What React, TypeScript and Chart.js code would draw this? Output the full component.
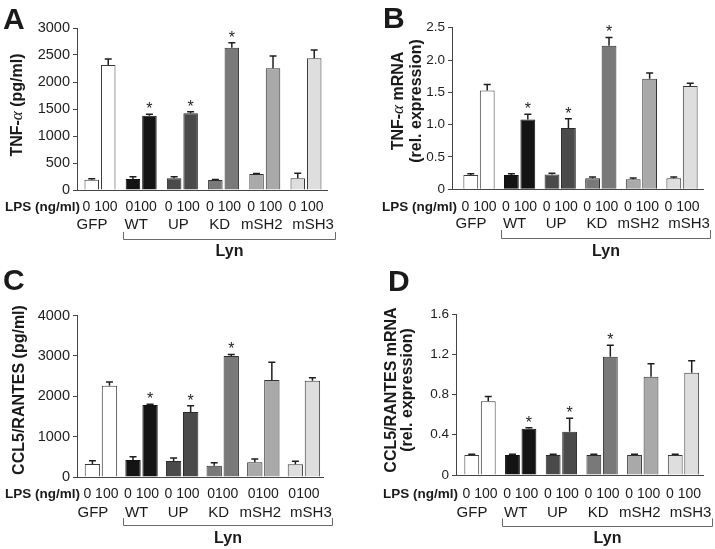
import React, { useEffect, useRef } from "react";
import { Chart, registerables } from "chart.js";

Chart.register(...registerables);

const FONT = "'Liberation Sans', Arial, Helvetica, sans-serif";
const SERIF = "'Liberation Serif', 'DejaVu Serif', serif";

// ---------- data ----------
const groups = ["GFP", "WT", "UP", "KD", "mSH2", "mSH3"];
const lpsTitle = "LPS (ng/ml)";
const bracketTitle = "Lyn";
const significant = [false, true, true, true, false, false];

// A: TNF-alpha protein (pg/ml)
const tnfProt0 = [190, 204, 216, 185, 296, 216];
const tnfProt0Err = [20, 40, 30, 10, 10, 93];
const tnfProt100 = [2315, 1376, 1420, 2636, 2253, 2438];
const tnfProt100Err = [110, 25, 30, 90, 230, 155];
const lpsA = ["0 100", "0100", "0 100", "0 100", "0 100", "0 100"];

// B: TNF-alpha mRNA (rel. expression)
const tnfMrna0 = [0.22, 0.22, 0.23, 0.17, 0.155, 0.17];
const tnfMrna0Err = [0.02, 0.02, 0.02, 0.02, 0.02, 0.02];
const tnfMrna100 = [1.53, 1.08, 0.95, 2.22, 1.71, 1.6];
const tnfMrna100Err = [0.09, 0.08, 0.14, 0.13, 0.09, 0.04];
const lpsB = ["0 100", "0 100", "0 100", "0 100", "0 100", "0 100"];

// C: CCL5/RANTES protein (pg/ml)
const cclProt0 = [320, 420, 396, 280, 364, 314];
const cclProt0Err = [80, 80, 75, 75, 80, 75];
const cclProt100 = [2260, 1782, 1609, 2995, 2400, 2384];
const cclProt100Err = [95, 20, 155, 40, 445, 75];
const lpsC = ["0 100", "0 100", "0 100", "0100", "0100", "0100"];

// D: CCL5/RANTES mRNA (rel. expression)
const cclMrna0 = [0.2, 0.2, 0.2, 0.2, 0.2, 0.2];
const cclMrna0Err = [0.005, 0.005, 0.005, 0.005, 0.005, 0.005];
const cclMrna100 = [0.734, 0.46, 0.43, 1.174, 0.976, 1.015];
const cclMrna100Err = [0.045, 0.01, 0.135, 0.116, 0.13, 0.12];
const lpsD = ["0 100", "0 100", "0 100", "0 100", "0 100", "0 100"];

// ---------- styling ----------
const fills = ["#ffffff", "#141414", "#4a4a4a", "#797979", "#a9a9a9", "#dedede"];
const borders = ["#3a3a3a", "#111111", "#2a2a2a", "#2e2e2e", "#333333", "#3a3a3a"];
const nameShift = [-8, -5, -4, -4, -3, 7];

const intFmt = (v: number) => String(v);
const decFmt = (v: number) => (v === 0 ? "0" : v.toFixed(1));

const panels = [
  {
    letter: "A", letterX: 3, letterY: 29,
    v0: tnfProt0, e0: tnfProt0Err, v1: tnfProt100, e1: tnfProt100Err, lps: lpsA,
    yMax: 3000, yStep: 500, fmt: intFmt, tickSize: 14.5,
    area: { l: 77, r: 327, t: 28, b: 190 }, xMin: -0.558, xMax: 5.51,
    catPct: 0.8, barPct: 0.88,
    titles: ["TNF-α (pg/ml)"], titleX: [18], titleY: 105,
    lpsX: 5, rowLps: 210.7, rowNames: 229.3, brTop: 232, brBot: 239, rowLyn: 256,
  },
  {
    letter: "B", letterX: 383, letterY: 28,
    v0: tnfMrna0, e0: tnfMrna0Err, v1: tnfMrna100, e1: tnfMrna100Err, lps: lpsB,
    yMax: 2.5, yStep: 0.5, fmt: decFmt, tickSize: 13.5,
    area: { l: 452, r: 703, t: 27.7, b: 189.3 }, xMin: -0.665, xMax: 5.517,
    catPct: 0.81, barPct: 0.9,
    titles: ["TNF-α mRNA", "(rel. expression)"], titleX: [399, 417], titleY: 101,
    lpsX: 382, rowLps: 211, rowNames: 228.3, brTop: 230, brBot: 238.3, rowLyn: 256,
  },
  {
    letter: "C", letterX: 3, letterY: 290,
    v0: cclProt0, e0: cclProt0Err, v1: cclProt100, e1: cclProt100Err, lps: lpsC,
    yMax: 4000, yStep: 1000, fmt: intFmt, tickSize: 14.5,
    area: { l: 77, r: 323, t: 315.5, b: 477 }, xMin: -0.59, xMax: 5.47,
    catPct: 0.84, barPct: 0.9,
    titles: ["CCL5/RANTES (pg/ml)"], titleX: [20], titleY: 390,
    lpsX: 5, rowLps: 498.3, rowNames: 516.7, brTop: 518, brBot: 525, rowLyn: 543,
  },
  {
    letter: "D", letterX: 388, letterY: 291,
    v0: cclMrna0, e0: cclMrna0Err, v1: cclMrna100, e1: cclMrna100Err, lps: lpsD,
    yMax: 1.6, yStep: 0.4, fmt: decFmt, tickSize: 13.5,
    area: { l: 456, r: 703, t: 314, b: 475 }, xMin: -0.59, xMax: 5.48,
    catPct: 0.81, barPct: 0.9,
    titles: ["CCL5/RANTES mRNA", "(rel. expression)"], titleX: [392, 408], titleY: 390,
    lpsX: 383, rowLps: 498.3, rowNames: 516.7, brTop: 518.3, brBot: 525.7, rowLyn: 543,
  },
];

function drawRotatedTitle(ctx: CanvasRenderingContext2D, text: string, cx: number, cy: number, size: number) {
  const parts = text.split(/(α)/).filter((s) => s.length > 0);
  const fontFor = (s: string) => (s === "α" ? `italic ${size + 1}px ${SERIF}` : `bold ${size}px ${FONT}`);
  let total = 0;
  const widths = parts.map((s) => {
    ctx.font = fontFor(s);
    const w = ctx.measureText(s).width;
    total += w;
    return w;
  });
  ctx.save();
  ctx.translate(cx, cy);
  ctx.rotate(-Math.PI / 2);
  ctx.textBaseline = "middle";
  ctx.textAlign = "left";
  let x = -total / 2;
  parts.forEach((s, i) => {
    ctx.font = fontFor(s);
    ctx.fillText(s, x, 0);
    x += widths[i];
  });
  ctx.restore();
}

function makeDeco(p: any) {
  return {
    id: "deco" + p.letter,
    afterDatasetsDraw(chart: any) {
      const ctx = chart.ctx;
      const ys = chart.scales.y;
      ctx.save();
      ctx.strokeStyle = "#1e1e1e";
      ctx.lineWidth = 1.5;
      const sets = [
        [p.v0, p.e0],
        [p.v1, p.e1],
      ];
      sets.forEach(([vals, errs]: any, d: number) => {
        const meta = chart.getDatasetMeta(d);
        vals.forEach((v: number, i: number) => {
          const bar = meta.data[i];
          const x = bar.x;
          const yTop = ys.getPixelForValue(v);
          const yErr = ys.getPixelForValue(v + errs[i]);
          ctx.beginPath();
          ctx.moveTo(x, yTop);
          ctx.lineTo(x, yErr);
          ctx.moveTo(x - 3.5, yErr);
          ctx.lineTo(x + 3.5, yErr);
          ctx.stroke();
          if (d === 1 && significant[i]) {
            ctx.fillStyle = "#1e1e1e";
            ctx.font = `16px ${FONT}`;
            ctx.textAlign = "center";
            ctx.textBaseline = "alphabetic";
            ctx.fillText("*", x, yErr);
          }
        });
      });
      ctx.restore();
    },
    afterDraw(chart: any) {
      const ctx = chart.ctx;
      const xs = chart.scales.x;
      ctx.save();
      ctx.fillStyle = "#1a1a1a";
      // panel letter
      ctx.font = `bold 30px ${FONT}`;
      ctx.textAlign = "left";
      ctx.textBaseline = "alphabetic";
      ctx.fillText(p.letter, p.letterX, p.letterY);
      // y titles
      p.titles.forEach((t: string, k: number) => drawRotatedTitle(ctx, t, p.titleX[k], p.titleY, 16));
      // LPS row
      ctx.font = `bold 13.5px ${FONT}`;
      ctx.textAlign = "left";
      ctx.fillText(lpsTitle, p.lpsX, p.rowLps);
      ctx.textAlign = "center";
      ctx.font = `14px ${FONT}`;
      groups.forEach((g, i) => {
        ctx.fillText(p.lps[i], xs.getPixelForValue(i), p.rowLps);
      });
      // group names
      ctx.font = `15px ${FONT}`;
      groups.forEach((g, i) => {
        ctx.fillText(g, xs.getPixelForValue(i) + nameShift[i], p.rowNames);
      });
      // bracket
      const bl = Math.round(xs.getPixelForValue(0.55)) + 0.5;
      const br = Math.round(xs.getPixelForValue(5.7)) + 0.5;
      const bb = Math.round(p.brBot) + 0.5;
      ctx.strokeStyle = "#6a6a6a";
      ctx.lineWidth = 1;
      ctx.beginPath();
      ctx.moveTo(bl, p.brTop);
      ctx.lineTo(bl, bb);
      ctx.lineTo(br, bb);
      ctx.lineTo(br, p.brTop);
      ctx.stroke();
      ctx.font = `bold 16px ${FONT}`;
      ctx.fillText(bracketTitle, (bl + br) / 2, p.rowLyn);
      ctx.restore();
    },
  };
}

export default function App() {
  const refs = useRef<(HTMLCanvasElement | null)[]>([]);

  useEffect(() => {
    const charts = panels.map((p, k) => {
      const canvas = refs.current[k] as HTMLCanvasElement;
      const YW = 60;
      return new Chart(canvas, {
        type: "bar",
        data: {
          datasets: [
            {
              label: "0",
              data: p.v0.map((v, i) => ({ x: i, y: v })),
              backgroundColor: fills,
              borderColor: borders,
              borderWidth: 1,
              categoryPercentage: p.catPct,
              barPercentage: p.barPct,
            },
            {
              label: "100",
              data: p.v1.map((v, i) => ({ x: i, y: v })),
              backgroundColor: fills,
              borderColor: borders,
              borderWidth: 1,
              categoryPercentage: p.catPct,
              barPercentage: p.barPct,
            },
          ],
        },
        options: {
          responsive: false,
          animation: false,
          devicePixelRatio: 1,
          layout: {
            padding: {
              left: p.area.l - YW,
              right: 715 - p.area.r,
              top: p.area.t,
              bottom: 549 - p.area.b,
            },
          },
          plugins: { legend: { display: false }, tooltip: { enabled: false }, title: { display: false } },
          scales: {
            x: {
              type: "linear",
              min: p.xMin,
              max: p.xMax,
              offset: false,
              ticks: { display: false, stepSize: 1, includeBounds: false },
              grid: { display: false },
              border: { display: true, color: "#454545", width: 1 },
              afterFit: (s: any) => {
                s.height = 0;
              },
            },
            y: {
              type: "linear",
              min: 0,
              max: p.yMax,
              ticks: {
                stepSize: p.yStep,
                color: "#1e1e1e",
                padding: 3,
                font: { family: FONT, size: p.tickSize },
                callback: (v: any) => p.fmt(Number(v)),
              },
              grid: {
                display: true,
                drawOnChartArea: false,
                drawTicks: true,
                tickLength: 4,
                color: "#454545",
                lineWidth: 1,
              },
              border: { display: true, color: "#454545", width: 1 },
              afterFit: (s: any) => {
                s.width = YW;
              },
            },
          },
        },
        plugins: [makeDeco(p)],
      } as any);
    });
    return () => charts.forEach((c) => c.destroy());
  }, []);

  return (
    <div style={{ position: "absolute", left: 0, top: 0, width: 715, height: 549, background: "#ffffff" }}>
      {panels.map((p, k) => (
        <canvas
          key={p.letter}
          ref={(el) => {
            refs.current[k] = el;
          }}
          width={715}
          height={549}
          style={{ position: "absolute", left: 0, top: 0, width: 715, height: 549 }}
        />
      ))}
    </div>
  );
}
